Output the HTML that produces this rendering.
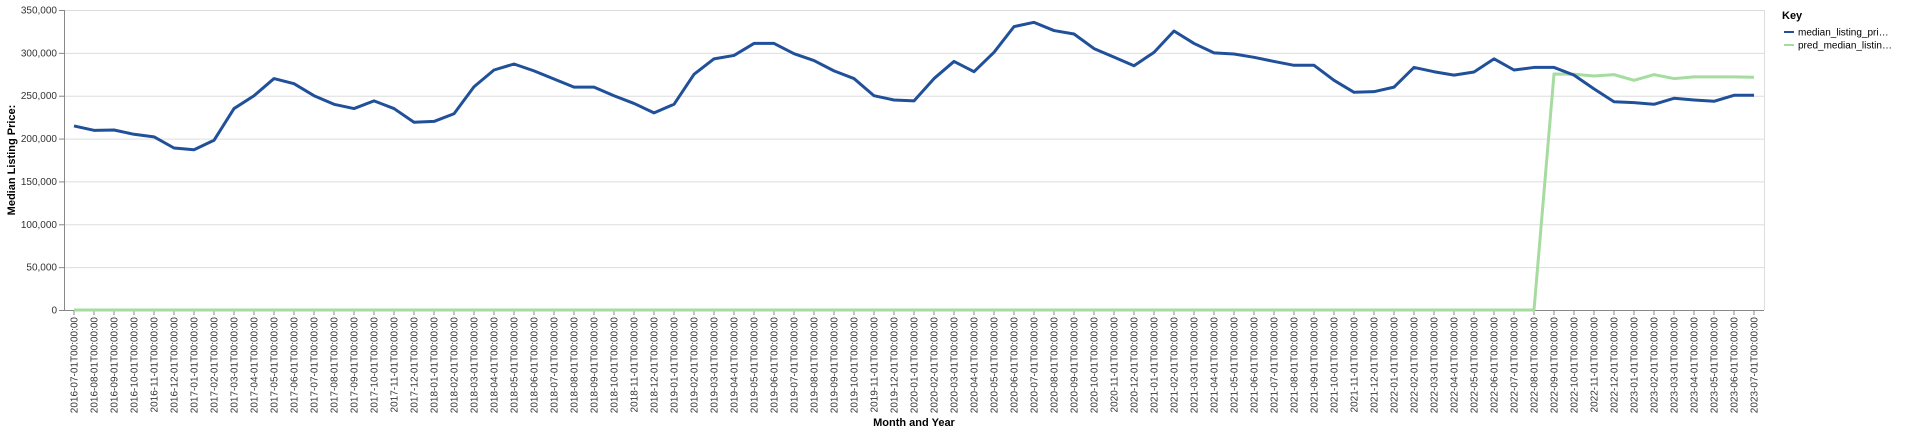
<!DOCTYPE html>
<html><head><meta charset="utf-8"><style>
html,body{margin:0;padding:0;background:#fff;}
svg{display:block;font-family:"Liberation Sans",Arial,sans-serif;}
</style></head><body>
<svg id="chart" width="1920" height="434" xmlns="http://www.w3.org/2000/svg"></svg>
<script>
const months = [];
for (let i = 0; i < 85; i++) { const m = (6 + i) % 12 + 1, y = 2016 + Math.floor((6 + i) / 12); months.push(y + '-' + String(m).padStart(2, '0') + '-01T00:00:00'); }
const medianPrice = [214.7,209.6,210,205,202,189,187,198,235,250,270,264,250,240,235,244,235,219,220,229,260.5,280,287,279,269.5,260,260,250,241,230,240,275,293,297,311,311,299,291,279,270,250,245,244,270,290,278,300.6,330.6,335.6,326,322,305,295,285,300.6,325.5,311,300,298.7,294.8,290,285.5,285.5,268,254,254.7,260,283,278,274,277.7,293,280,283,283,274,258,243,242,240,247,245,243.5,250.5,250.5].map(v => v * 1000);
const predPrice = new Array(74).fill(0).concat([275.3,275,273,274.6,268,274.6,270,272,272,272,271.5].map(v => v * 1000));
const yTicks = [0,50000,100000,150000,200000,250000,300000,350000];

const NS = 'http://www.w3.org/2000/svg';
const svg = document.getElementById('chart');
const X0 = 64, X1 = 1764, Y0 = 310, Y1 = 10, YMAX = 350000;
const band = (X1 - X0) / months.length;
const xs = i => X0 + band * (i + 0.5);
const ys = v => Y0 - (v / YMAX) * (Y0 - Y1);
function mk(tag, attrs, parent) { const e = document.createElementNS(NS, tag); for (const k in attrs) e.setAttribute(k, attrs[k]); (parent || svg).appendChild(e); return e; }

const grid = mk('g', {});


yTicks.forEach(t => {
  const l = mk('line', {x1: X0, x2: X1, y1: ys(t) + 0.5, y2: ys(t) + 0.5, stroke: '#ddd', 'stroke-width': 1}, grid);
  
  
  const tk = mk('line', {x1: X0 - 5, x2: X0, y1: ys(t) + 0.5, y2: ys(t) + 0.5, stroke: '#888'});
  
  
  const tx = mk('text', {x: X0 - 7, y: ys(t) + 3.5, 'text-anchor': 'end', 'font-size': 10, fill: '#333'});
  tx.textContent = t.toLocaleString('en-US');
  
  
});
const rb = mk('line', {x1: X1 + 0.5, x2: X1 + 0.5, y1: Y1, y2: Y0, stroke: '#ddd'});


const yd = mk('line', {x1: X0 + 0.5, x2: X0 + 0.5, y1: Y1, y2: Y0, stroke: '#888'});


const xd = mk('line', {x1: X0, x2: X1, y1: Y0 + 0.5, y2: Y0 + 0.5, stroke: '#888'});



months.forEach((m, i) => {
  const x = xs(i);
  const tk = mk('line', {x1: x, x2: x, y1: Y0, y2: Y0 + 5, stroke: '#888'});
  
  
  const tx = mk('text', {x: 0, y: 0, transform: `translate(${x + 3.5},${Y0 + 7}) rotate(-90)`, 'text-anchor': 'end', 'font-size': 10, fill: '#333'});
  tx.textContent = m;
  
  
});

const yt = mk('text', {x: 0, y: 0, transform: `translate(15,${(Y0 + Y1) / 2}) rotate(-90)`, 'text-anchor': 'middle', 'font-size': 11, 'font-weight': 'bold', fill: '#000'});
yt.textContent = 'Median Listing Price:';


const xt = mk('text', {x: (X0 + X1) / 2, y: 426, 'text-anchor': 'middle', 'font-size': 11, 'font-weight': 'bold', fill: '#000'});
xt.textContent = 'Month and Year';



const pPred = mk('path', {d: predPrice.map((v, i) => (i ? 'L' : 'M') + xs(i) + ',' + ys(v)).join(''), fill: 'none', stroke: '#a6dca0', 'stroke-width': 3, 'stroke-linejoin': 'round'});


const pMed = mk('path', {d: medianPrice.map((v, i) => (i ? 'L' : 'M') + xs(i) + ',' + ys(v)).join(''), fill: 'none', stroke: '#21509a', 'stroke-width': 3, 'stroke-linejoin': 'round'});



const lg = mk('g', {});


const kt = mk('text', {x: 1782, y: 19, 'font-size': 11, 'font-weight': 'bold', fill: '#000'}, lg);
kt.textContent = 'Key';


[['median_listing_pri…', '#21509a', 32], ['pred_median_listin…', '#a6dca0', 45]].forEach(([lab, col, y]) => {
  const s = mk('line', {x1: 1784, x2: 1794, y1: y, y2: y, stroke: col, 'stroke-width': 2}, lg);
  
  
  const t = mk('text', {x: 1798, y: y + 3.5, 'font-size': 10, fill: '#000'}, lg);
  t.textContent = lab;
  
  
});
</script>
</body></html>
